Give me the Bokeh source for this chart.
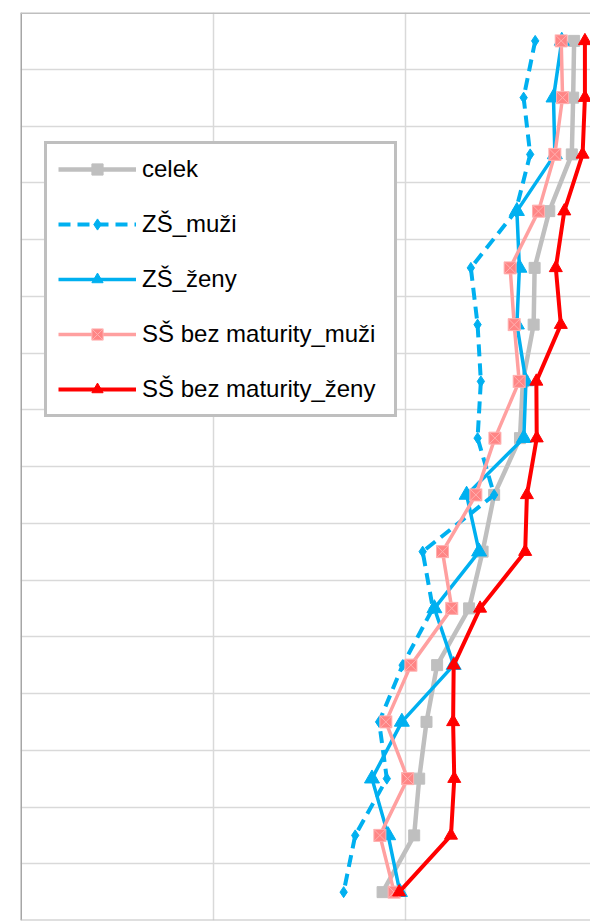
from bokeh.plotting import figure
from bokeh.models import Range1d, Span, Grid, FixedTicker
from bokeh.embed import file_html
from bokeh.resources import INLINE

# ---- data (row 1 = top row) ----
rows = list(range(1, 17))
names = ["celek", "ZŠ_muži", "ZŠ_ženy", "SŠ bez maturity_muži", "SŠ bez maturity_ženy"]
celek = [28.73, 28.68, 28.61, 27.44, 26.68, 26.63, 26.07, 25.92, 24.58, 23.98, 23.28, 21.62, 21.07, 20.69, 20.43, 18.79]
zs_muzi = [26.71, 26.11, 26.45, 25.70, 23.37, 23.72, 23.89, 23.72, 24.58, 20.87, 21.40, 19.83, 18.61, 19.01, 17.37, 16.77]
zs_zeny = [28.09, 27.66, 27.73, 25.76, 25.89, 25.76, 26.23, 26.12, 23.15, 23.80, 21.48, 22.48, 19.79, 18.24, 19.08, 19.69]
ss_muzi = [28.06, 28.13, 27.73, 26.88, 25.41, 25.62, 25.88, 24.62, 23.63, 21.90, 22.38, 20.26, 18.96, 20.09, 18.65, 19.39]
ss_zeny = [29.29, 29.29, 29.17, 28.22, 27.78, 28.04, 26.77, 26.79, 26.28, 26.19, 23.85, 22.48, 22.45, 22.51, 22.34, 19.65]
x_grid_ticks = [10, 20]

p = figure(width=590, height=921, output_backend="svg", toolbar_location=None,
           x_range=Range1d(0, 29.58), y_range=Range1d(16.5, 0.5),
           x_axis_location=None, y_axis_location=None,
           min_border_left=20, min_border_right=0, min_border_top=12, min_border_bottom=1)
p.outline_line_color = None
p.background_fill_color = "white"
p.border_fill_color = "white"

# grids
p.center = [c for c in p.center if not isinstance(c, Grid)]
grid_color = "#D9D9D9"
p.add_layout(Grid(dimension=0, ticker=FixedTicker(ticks=x_grid_ticks),
                  grid_line_color=grid_color, grid_line_width=1.5))
p.add_layout(Grid(dimension=1, ticker=FixedTicker(ticks=[r + 0.5 for r in rows[:-1]]),
                  grid_line_color=grid_color, grid_line_width=1.5))

# borders
p.add_layout(Span(location=0, dimension="height", line_color="#A6A6A6", line_width=3))
p.add_layout(Span(location=0.5, dimension="width", line_color="#BFBFBF", line_width=3))
p.add_layout(Span(location=16.5, dimension="width", line_color="#BFBFBF", line_width=2))

# series
p.line(celek, rows, line_color="#BFBFBF", line_width=4.5, legend_label=names[0])
p.scatter(celek, rows, marker="square", size=11, fill_color="#BFBFBF", line_color="#BFBFBF",
          legend_label=names[0])

p.line(zs_muzi, rows, line_color="#00B0F0", line_width=4, line_dash="12 7", legend_label=names[1])
p.scatter(zs_muzi, rows, marker="diamond", size=11, fill_color="#00B0F0", line_color="#00B0F0",
          legend_label=names[1])

p.line(zs_zeny, rows, line_color="#00B0F0", line_width=3.5, legend_label=names[2])
p.scatter(zs_zeny, rows, marker="triangle", size=15, fill_color="#00B0F0", line_color="#00B0F0",
          legend_label=names[2])

p.line(ss_muzi, rows, line_color="#FFA0A0", line_width=3.5, legend_label=names[3])
p.scatter(ss_muzi, rows, marker="square_x", size=12, fill_color="#FF8585", line_color="#FFB0B0",
          line_width=1, legend_label=names[3])

p.line(ss_zeny, rows, line_color="#FF0000", line_width=4, legend_label=names[4])
p.scatter(ss_zeny, rows, marker="triangle", size=13, fill_color="#FF0000", line_color="#FF0000",
          legend_label=names[4])

lg = p.legend[0]
lg.location = (24, 503)
lg.margin = 0
lg.label_text_font = "Liberation Sans"
lg.label_text_font_size = "24px"
lg.label_text_color = "black"
lg.glyph_width = 78
lg.glyph_height = 28
lg.label_height = 28
lg.label_standoff = 6
lg.label_width = 241
lg.spacing = 27
lg.padding = 11
lg.border_line_color = "#7F7F7F"
lg.border_line_width = 3
lg.background_fill_color = "white"
lg.background_fill_alpha = 1

open("out.html", "w").write(file_html(p, INLINE))
